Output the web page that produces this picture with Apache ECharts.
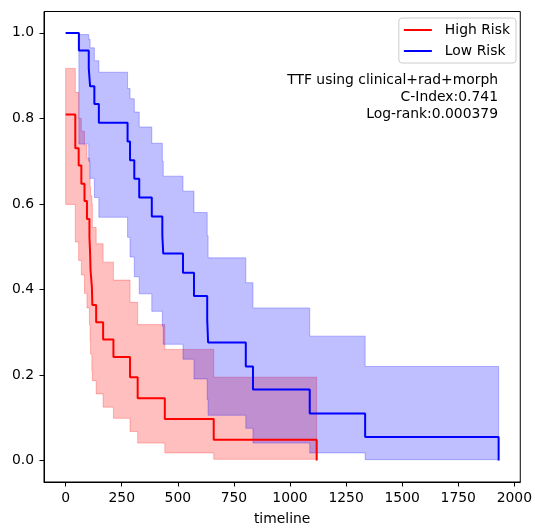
<!DOCTYPE html>
<html><head><meta charset="utf-8">
<script src="https://cdn.jsdelivr.net/npm/echarts@6/dist/echarts.min.js"></script>
<style>html,body{margin:0;padding:0;background:#fff}#c{width:535px;height:531px}</style>
</head><body><div id="c"></div>
<script>
// High Risk group: KM estimate and confidence band (step-post)
var highTimes = [0,43,58,70,84,95,106,109,111,117,119,136,167,213,287,321,442,660,1119];
var highSurv  = [0.809,0.730,0.690,0.647,0.607,0.565,0.524,0.485,0.445,0.405,0.364,0.3235,0.283,0.2425,0.195,0.146,0.097,0.0485,0];
var highUpper = [0.917,0.861,0.800,0.770,0.738,0.707,0.661,0.640,0.619,0.600,0.545,0.507,0.464,0.422,0.370,0.318,0.260,0.195,0.195];
var highLower = [0.599,0.511,0.468,0.434,0.391,0.357,0.318,0.280,0.249,0.210,0.187,0.156,0.125,0.099,0.068,0.041,0.018,0.003,0.003];

// Low Risk group
var lowTimes = [0,59,103,109,128,148,276,287,306,328,384,431,435,523,572,631,635,803,835,1088,1335,1930];
var lowSurv  = [1.0,0.959,0.917,0.875,0.834,0.790,0.746,0.702,0.659,0.615,0.571,0.526,0.484,0.439,0.385,0.330,0.276,0.220,0.166,0.110,0.055,0];
var lowUpper = [1.0,0.996,0.985,0.965,0.935,0.908,0.870,0.846,0.815,0.780,0.742,0.700,0.665,0.630,0.580,0.526,0.474,0.416,0.357,0.291,0.220,0.220];
var lowLower = [1.0,0.740,0.700,0.660,0.615,0.569,0.522,0.476,0.430,0.390,0.349,0.314,0.272,0.237,0.191,0.143,0.106,0.0755,0.041,0.018,0.0023,0.0023];

var xTicks = [0,250,500,750,1000,1250,1500,1750,2000];
var yTicks = [0,0.2,0.4,0.6,0.8,1.0];
var annotation = ['TTF using clinical+rad+morph','C-Index:0.741','Log-rank:0.000379'];

var FONT = 'DejaVu Sans';

function zip(a, b) { return a.map(function (v, i) { return [v, b[i]]; }); }

function bandSeries(name, times, lo, hi, color) {
  return {
    type: 'custom',
    name: name,
    silent: true,
    z: 1,
    data: times.map(function (t, i) { return [t, lo[i], hi[i]]; }),
    encode: { x: 0, y: [1, 2] },
    renderItem: function (params, api) {
      if (params.dataIndex !== 0) return null;
      var pts = [];
      for (var i = 0; i < times.length - 1; i++) {
        pts.push(api.coord([times[i], hi[i]]));
        pts.push(api.coord([times[i + 1], hi[i]]));
      }
      for (var j = times.length - 2; j >= 0; j--) {
        pts.push(api.coord([times[j + 1], lo[j]]));
        pts.push(api.coord([times[j], lo[j]]));
      }
      return { type: 'polygon', shape: { points: pts },
        style: { fill: color, stroke: color, lineWidth: 1 } };
    }
  };
}

function lineSeries(name, times, surv, color) {
  return {
    type: 'line', name: name, step: 'end', z: 3,
    showSymbol: false, symbol: 'none',
    lineStyle: { color: color, width: 2 },
    itemStyle: { color: color },
    data: zip(times, surv)
  };
}

var chart = echarts.init(document.getElementById('c'));
chart.setOption({
  animation: false,
  backgroundColor: '#fff',
  grid: { left: 44, right: 12, top: 11.5, bottom: 43.5, show: true,
          borderColor: '#000', borderWidth: 1, backgroundColor: 'transparent' },
  xAxis: {
    type: 'value', min: -96.5, max: 2026.5,
    name: 'timeline', nameLocation: 'middle', nameGap: 30,
    nameTextStyle: { fontFamily: FONT, fontSize: 13.9, color: '#000' },
    axisLine: { show: true, onZero: false, lineStyle: { color: '#000', width: 1 } },
    axisTick: { show: true, length: 4.5, lineStyle: { color: '#000', width: 1 }, customValues: xTicks },
    axisLabel: { margin: 9, fontFamily: FONT, fontSize: 13.9, color: '#000', customValues: xTicks,
                 formatter: function (v) { return String(v); } },
    splitLine: { show: false }
  },
  yAxis: {
    type: 'value', min: -0.05, max: 1.05,
    axisLine: { show: true, onZero: false, lineStyle: { color: '#000', width: 1 } },
    axisTick: { show: true, length: 4.5, lineStyle: { color: '#000', width: 1 }, customValues: yTicks },
    axisLabel: { margin: 10, fontFamily: FONT, fontSize: 13.9, color: '#000', customValues: yTicks,
                 formatter: function (v) { return v.toFixed(1); } },
    splitLine: { show: false }
  },
  legend: {
    data: ['High Risk', 'Low Risk'],
    orient: 'vertical', right: 19, top: 18,
    padding: [5, 6, 5, 5], itemGap: 7,
    itemWidth: 28, itemHeight: 2, icon: 'rect',
    backgroundColor: 'rgba(255,255,255,0.8)', borderColor: '#cccccc', borderWidth: 1, borderRadius: 3,
    textStyle: { fontFamily: FONT, fontSize: 13.9, color: '#000', padding: [0, 0, 0, 8] }
  },
  graphic: [{
    type: 'text', right: 37, top: 72.5, z: 10,
    style: { text: annotation.join('\n'), textAlign: 'right', fill: '#000',
             font: '13.9px "DejaVu Sans"', lineHeight: 16.7 }
  }],
  series: [
    bandSeries('High Risk band', highTimes, highLower, highUpper, 'rgba(255,0,0,0.25)'),
    lineSeries('High Risk', highTimes, highSurv, '#ff0000'),
    bandSeries('Low Risk band', lowTimes, lowLower, lowUpper, 'rgba(0,0,255,0.25)'),
    lineSeries('Low Risk', lowTimes, lowSurv, '#0000ff')
  ]
});
</script>
</body></html>
